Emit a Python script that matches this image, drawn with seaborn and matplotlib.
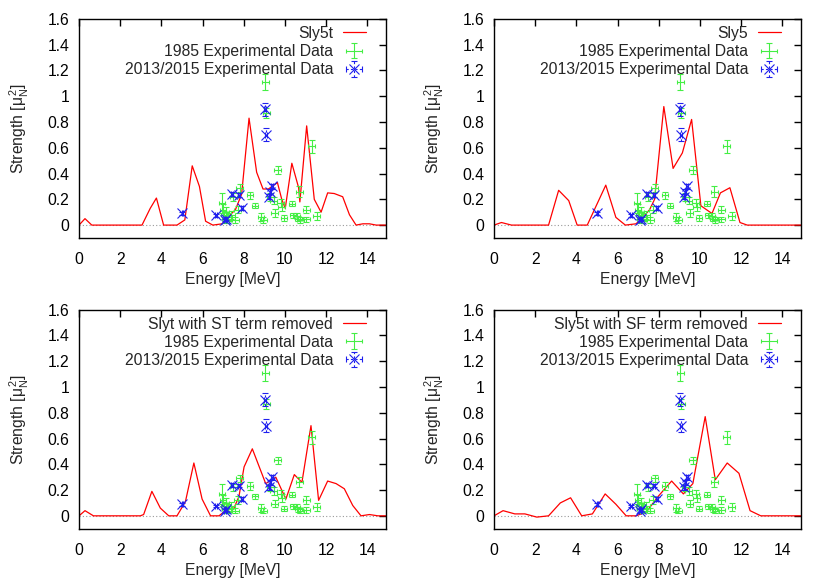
import matplotlib
matplotlib.use('Agg')
import matplotlib.pyplot as plt
import seaborn as sns
import pandas as pd
from matplotlib.ticker import FormatStrFormatter, MultipleLocator
from matplotlib.legend_handler import HandlerTuple

# theory curves (energy in MeV, strength in mu_N^2)
sly5t_e = [0, 0.29, 0.62, 3.06, 3.46, 3.76, 4.11, 4.76, 5.14, 5.5, 5.85, 6.15, 6.5, 6.96, 7.1,
           7.6, 7.9, 8.26, 8.63, 8.94, 9.2, 9.64, 9.85, 10.02, 10.34, 10.67, 10.73, 11.06, 11.43,
           11.76, 12.08, 12.4, 12.81, 13.14, 13.46, 13.79, 14.11, 14.44, 14.9]
sly5t_s = [0, 0.05, 0, 0, 0.13, 0.21, 0, 0, 0.04, 0.46, 0.30, 0.03, 0, 0.01, 0.04,
           0.12, 0.24, 0.83, 0.41, 0.28, 0.28, 0.33, 0.2, 0.13, 0.48, 0.29, 0.18, 0.77, 0.2,
           0.1, 0.25, 0.245, 0.22, 0.08, 0, 0.01, 0.01, 0, 0]

sly5_e = [0, 0.36, 0.85, 2.65, 3.14, 3.63, 4.04, 4.53, 5.43, 5.92, 6.38, 6.9, 7.23, 7.56, 7.8,
          8.25, 8.7, 9.15, 9.6, 10.05, 10.59, 11.0, 11.46, 11.95, 12.3, 14.9]
sly5_s = [0, 0.02, 0, 0, 0.27, 0.19, 0, 0, 0.31, 0.06, 0, 0.01, 0.06, 0.12, 0.2,
          0.92, 0.44, 0.56, 0.82, 0.15, 0.09, 0.25, 0.29, 0.02, 0, 0]

slyt_st_e = [0, 0.29, 0.7, 2.98, 3.14, 3.54, 3.95, 4.36, 4.76, 5.17, 5.58, 5.98, 6.39, 6.8, 7.12,
             7.53, 7.77, 8.02, 8.42, 9.07, 9.56, 10.05, 10.46, 10.83, 11.27, 11.64, 12.08, 12.49,
             12.89, 13.3, 13.7, 14.11, 14.52, 14.9]
slyt_st_s = [0, 0.04, 0, 0, 0.01, 0.19, 0.06, 0, 0, 0.11, 0.41, 0.13, 0, 0, 0.04,
             0.06, 0.15, 0.38, 0.52, 0.25, 0.30, 0.13, 0.32, 0.26, 0.70, 0.12, 0.27, 0.25,
             0.21, 0.08, 0, 0.01, 0, 0]

sly5t_sf_e = [0, 0.44, 1.01, 1.5, 2.08, 2.65, 3.22, 3.72, 4.26, 4.78, 5.4, 5.92, 6.42, 6.9, 7.4,
              7.97, 8.63, 9.2, 9.66, 10.26, 10.75, 11.33, 11.9, 12.44, 12.96, 14.9]
sly5t_sf_s = [0, 0.04, 0.015, 0.015, -0.01, 0, 0.10, 0.14, 0, 0.015, 0.17, 0.09, 0, 0, 0.03,
              0.15, 0.27, 0.17, 0.25, 0.77, 0.28, 0.41, 0.33, 0.04, 0, 0]

# 1985 experimental data
exp85_e = [6.95, 7.0, 7.05, 7.1, 7.15, 7.2, 7.25, 7.4, 7.5, 7.6, 7.7, 7.8, 8.3, 8.55, 8.85,
           8.95, 9.05, 9.1, 9.3, 9.45, 9.5, 9.65, 9.8, 9.85, 9.95, 10.35, 10.4, 10.6, 10.65,
           10.7, 10.75, 11.05, 11.05, 11.3, 11.55]
exp85_s = [0.17, 0.12, 0.08, 0.05, 0.10, 0.04, 0.06, 0.08, 0.22, 0.04, 0.12, 0.29, 0.23, 0.15, 0.06,
           0.04, 1.11, 0.87, 0.22, 0.19, 0.095, 0.43, 0.17, 0.14, 0.055, 0.165, 0.075, 0.07, 0.05,
           0.26, 0.04, 0.12, 0.045, 0.61, 0.07]
exp85_err = [0.08, 0.04, 0.03, 0.03, 0.04, 0.02, 0.03, 0.03, 0.03, 0.02, 0.03, 0.03, 0.03, 0.02, 0.03,
             0.02, 0.06, 0.04, 0.03, 0.03, 0.03, 0.03, 0.03, 0.03, 0.02, 0.02, 0.02, 0.02, 0.02,
             0.04, 0.02, 0.03, 0.02, 0.05, 0.03]

# 2013/2015 experimental data
exp13_e = [5.02, 6.65, 7.08, 7.12, 7.42, 7.78, 7.93, 9.05, 9.1, 9.25, 9.3, 9.37]
exp13_s = [0.09, 0.075, 0.04, 0.05, 0.24, 0.235, 0.13, 0.90, 0.70, 0.22, 0.26, 0.30]
exp13_err = [0.01, 0.01, 0.01, 0.01, 0.015, 0.015, 0.015, 0.05, 0.05, 0.02, 0.02, 0.02]

panels = [
    ('Sly5t', sly5t_e, sly5t_s),
    ('Sly5', sly5_e, sly5_s),
    ('Slyt with ST term removed', slyt_st_e, slyt_st_s),
    ('Sly5t with SF term removed', sly5t_sf_e, sly5t_sf_s),
]

sns.set_style('white')
plt.rcParams['font.family'] = ['Liberation Sans', 'DejaVu Sans']
plt.rcParams['mathtext.fontset'] = 'custom'
plt.rcParams['mathtext.rm'] = 'Liberation Sans'
plt.rcParams['mathtext.it'] = 'Liberation Sans'
fs = 11.3
green = '#44ee44'
blue = '#2020ee'

fig = plt.figure(figsize=(8.3, 5.81), dpi=100)
positions = [(0.0952, 0.5904), (0.5952, 0.5904), (0.0952, 0.090), (0.5952, 0.090)]

for (label, e, s), (left, bottom) in zip(panels, positions):
    ax = fig.add_axes([left, bottom, 0.3695, 0.377])
    ax.axhline(0, color='#999999', lw=0.8, ls=(0, (1, 2)), zorder=0)
    df = pd.DataFrame({'e': e, 's': s})
    sns.lineplot(data=df, x='e', y='s', ax=ax, color='red', lw=0.9, sort=False,
                 estimator=None)
    line = ax.get_lines()[-1]
    # vertical bars with wide caps, short horizontal bars with small caps
    eby = ax.errorbar(exp85_e, exp85_s, yerr=exp85_err, fmt='none', ecolor=green,
                      elinewidth=0.8, capsize=2.5, capthick=0.8)
    ebx = ax.errorbar(exp85_e, exp85_s, xerr=0.16, fmt='none', ecolor=green,
                      elinewidth=0.8, capsize=1.5, capthick=0.8)
    eb13 = ax.errorbar(exp13_e, exp13_s, yerr=exp13_err, xerr=0.04, fmt='x',
                       color=blue, ms=6.5, mew=0.8, elinewidth=0.8, capsize=2,
                       capthick=0.8)
    for bl in eb13[2]:
        bl.set_linestyle((0, (2, 2)))

    ax.set_xlim(0, 14.9)
    ax.set_ylim(-0.1, 1.6)
    ax.xaxis.set_major_locator(MultipleLocator(2))
    ax.yaxis.set_major_locator(MultipleLocator(0.2))
    ax.yaxis.set_major_formatter(FormatStrFormatter('%g'))
    ax.tick_params(direction='in', length=5, width=1, top=True, right=True,
                   labelsize=fs, colors='black')
    ax.tick_params(axis='x', pad=10)
    ax.tick_params(axis='y', pad=7)
    for sp in ax.spines.values():
        sp.set_color('black')
        sp.set_linewidth(1)
    ax.set_xlabel('Energy [MeV]', fontsize=fs, labelpad=4)
    ax.set_ylabel(r'Strength [$\mu_N^2$]', fontsize=fs, labelpad=12)

    # gnuplot-style key: text right-aligned, sample on the right
    ax.legend([line, (ebx, eby), eb13],
              [label, '1985 Experimental Data', '2013/2015 Experimental Data'],
              handler_map={tuple: HandlerTuple(ndivide=1, pad=0)},
              loc='upper right', bbox_to_anchor=(0.936, 0.968),
              frameon=False, markerfirst=False, fontsize=fs, handlelength=1.5,
              handletextpad=0.6, labelspacing=0.2, borderpad=0, borderaxespad=0)

fig.savefig('out.png', dpi=100)
